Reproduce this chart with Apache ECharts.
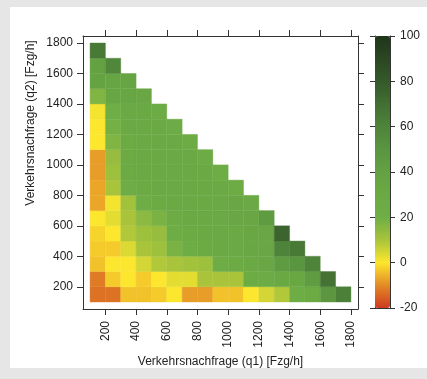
<!DOCTYPE html>
<html>
<head>
<meta charset="utf-8">
<script src="https://cdn.jsdelivr.net/npm/echarts@6/dist/echarts.min.js"></script>
<style>
  html, body { margin: 0; padding: 0; background: #e6e6e6; }
  #panel { position: absolute; left: 10px; top: 7px; width: 417px; height: 361px; background: #fff; }
  #chart { position: absolute; left: 0; top: 0; width: 427px; height: 379px; }
</style>
</head>
<body>
<div id="panel"></div>
<div id="chart"></div>
<script>
// Klassenuntergrenzen (100 Fzg/h breit)
const q1Start = [100, 200, 300, 400, 500, 600, 700, 800, 900, 1000, 1100, 1200, 1300, 1400, 1500, 1600, 1700];
const q2Start = [100, 200, 300, 400, 500, 600, 700, 800, 900, 1000, 1100, 1200, 1300, 1400, 1500, 1600, 1700];

// Werte je Zeile q2, von q1 = 100 aufwärts (nur q1 + q2 <= 1800)
const q2_100  = [-13, -13, -4, -4, -3, 0, -8, -8, -4, -4, 0, 5, 9, 22, 28, 48, 62];
const q2_200  = [-12, -3, 0, -3, 0, 3, 3, 10, 10, 10, 24, 27, 31, 33, 44, 68];
const q2_300  = [-4, 0, 0, 5, 9, 10, 11, 12, 22, 28, 30, 32, 45, 50, 60];
const q2_400  = [-3, -3, 4, 10, 12, 18, 22, 28, 30, 30, 32, 32, 60, 65];
const q2_500  = [-2, 0, 9, 12, 13, 22, 28, 30, 30, 30, 32, 32, 75];
const q2_600  = [0, 3, 10, 15, 18, 25, 30, 30, 30, 32, 32, 45];
const q2_700  = [-7, 1, 11, 22, 28, 30, 30, 30, 30, 32, 30];
const q2_800  = [-7, 10, 22, 28, 30, 30, 30, 30, 30, 25];
const q2_900  = [-8, 12, 28, 30, 30, 30, 30, 30, 23];
const q2_1000 = [-8, 13, 28, 30, 30, 30, 30, 27];
const q2_1100 = [0, 17, 28, 30, 30, 30, 26];
const q2_1200 = [0, 19, 30, 30, 30, 27];
const q2_1300 = [1, 20, 30, 30, 27];
const q2_1400 = [17, 34, 34, 32];
const q2_1500 = [38, 36, 36];
const q2_1600 = [40, 58];
const q2_1700 = [65];

const rows = [q2_100, q2_200, q2_300, q2_400, q2_500, q2_600, q2_700, q2_800, q2_900,
  q2_1000, q2_1100, q2_1200, q2_1300, q2_1400, q2_1500, q2_1600, q2_1700];

const axisTicks = [200, 400, 600, 800, 1000, 1200, 1400, 1600, 1800];
// Farbskala -20 .. 100 in 10er Schritten
const keyColors = ['#cf3a1f', '#e38a26', '#fce72e', '#a9c43b', '#6fae46', '#6ba944', '#64a142',
  '#5a9540', '#4e843a', '#426f32', '#35592a', '#2a4722', '#1f351a'];

let cells = [];
rows.forEach((row, r) => {
  row.forEach((v, c) => {
    cells.push([q1Start[c], q2Start[r], v]);
  });
});

const frame = '#333';
const txt = { color: '#222', fontSize: 12, fontFamily: 'Liberation Sans, Arial, sans-serif' };
const plain = v => String(v);

function renderCell(params, api) {
  const x0 = api.value(0), y0 = api.value(1);
  const p0 = api.coord([x0, y0 + 100]);
  const p1 = api.coord([x0 + 100, y0]);
  const col = api.visual('color');
  return {
    type: 'rect',
    shape: { x: p0[0], y: p0[1], width: p1[0] - p0[0], height: p1[1] - p0[1] },
    style: { fill: col, stroke: col, lineWidth: 0.4 }
  };
}

function frameAxis(opt) {
  return Object.assign({
    type: 'value',
    axisLine: { show: true, onZero: false, lineStyle: { color: frame, width: 1 } },
    axisTick: { show: false },
    axisLabel: { show: false },
    splitLine: { show: false }
  }, opt);
}

let myChart = echarts.init(document.getElementById('chart'));

myChart.setOption({
  animation: false,
  grid: [
    { left: 83, right: 69, top: 36, bottom: 70 },
    { left: 375, width: 15, top: 36, height: 272 }
  ],
  graphic: [{
    type: 'text',
    x: 31, y: 123,
    rotation: Math.PI / 2,
    style: Object.assign({
      text: 'Verkehrsnachfrage (q2) [Fzg/h]',
      align: 'center', verticalAlign: 'middle',
      fill: txt.color
    }, { fontSize: txt.fontSize, fontFamily: txt.fontFamily })
  }],
  xAxis: [
    frameAxis({
      gridIndex: 0, min: 54, max: 1846, position: 'bottom',
      axisTick: { show: true, customValues: axisTicks, length: 6, lineStyle: { color: frame } },
      axisLabel: Object.assign({ show: true, customValues: axisTicks, rotate: 90, margin: 12, formatter: plain }, txt),
      name: 'Verkehrsnachfrage (q1) [Fzg/h]', nameLocation: 'middle', nameGap: 43,
      nameTextStyle: txt
    }),
    frameAxis({
      gridIndex: 0, min: 54, max: 1846, position: 'top',
      axisTick: { show: true, customValues: axisTicks, length: 6, lineStyle: { color: frame } },
      axisLabel: { show: false, customValues: axisTicks }
    }),
    frameAxis({ gridIndex: 1, min: 0, max: 1, position: 'bottom' }),
    frameAxis({ gridIndex: 1, min: 0, max: 1, position: 'top' })
  ],
  yAxis: [
    frameAxis({
      gridIndex: 0, min: 54, max: 1846, position: 'left',
      axisTick: { show: true, customValues: axisTicks, length: 6, lineStyle: { color: frame } },
      axisLabel: Object.assign({ show: true, customValues: axisTicks, margin: 10, formatter: plain }, txt)
    }),
    frameAxis({
      gridIndex: 0, min: 54, max: 1846, position: 'right',
      axisTick: { show: true, customValues: axisTicks, length: 6, lineStyle: { color: frame } },
      axisLabel: { show: false, customValues: axisTicks }
    }),
    frameAxis({
      gridIndex: 1, min: -20, max: 100, interval: 20, position: 'right',
      axisTick: { show: true, length: 5, lineStyle: { color: frame } },
      axisLabel: Object.assign({ show: true, margin: 10 }, txt)
    }),
    frameAxis({
      gridIndex: 1, min: -20, max: 100, interval: 20, position: 'left',
      axisTick: { show: true, length: 5, lineStyle: { color: frame } }
    })
  ],
  visualMap: {
    type: 'continuous',
    min: -20, max: 100,
    dimension: 2,
    seriesIndex: 0,
    orient: 'vertical',
    left: 375, top: 36,
    itemWidth: 15, itemHeight: 272,
    padding: 0,
    calculable: false,
    hoverLink: false,
    z: 1,
    inRange: { color: keyColors }
  },
  series: [{
    type: 'custom',
    xAxisIndex: 0, yAxisIndex: 0,
    renderItem: renderCell,
    data: cells,
    encode: { x: 0, y: 1 }
  }]
});
</script>
</body>
</html>
